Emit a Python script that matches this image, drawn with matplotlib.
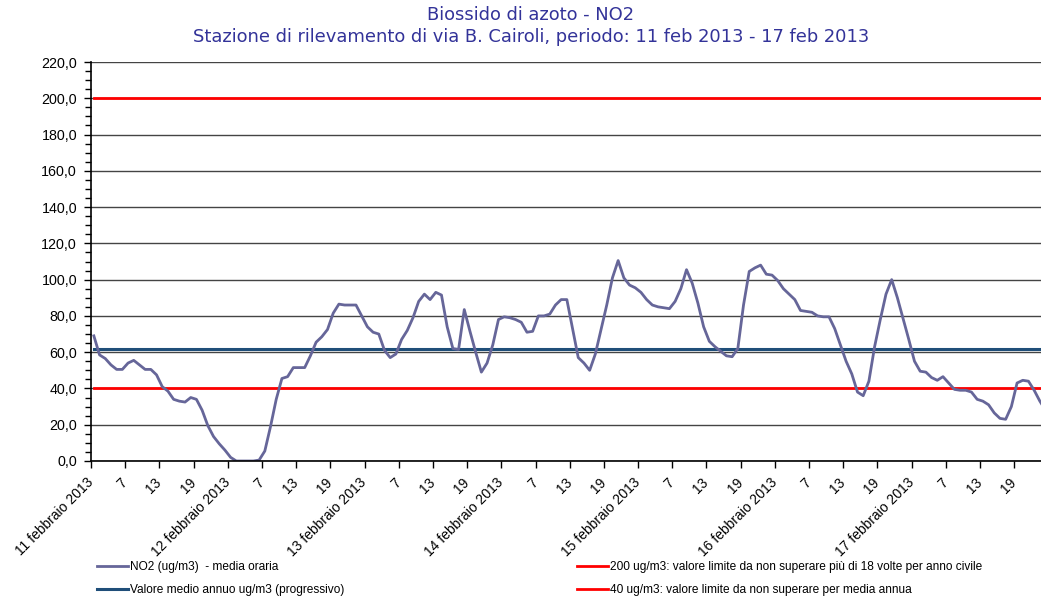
import numpy as np
import matplotlib
matplotlib.use("Agg")
import matplotlib.pyplot as plt
from matplotlib.ticker import MultipleLocator, FuncFormatter

# hourly NO2 values (ug/m3), 11-17 feb 2013, 24 per day
day_11 = [69, 58.5, 56.5, 53, 50.5, 50.5, 54, 55.5, 53, 50.5, 50.5, 47.5,
          41, 38.5, 34, 33, 32.5, 35, 34, 28, 19.5, 13.5, 9.5, 6]
day_12 = [2, 0, 0, 0, 0, 0.5, 5.5, 19, 34, 45.5, 46.5, 51.5,
          51.5, 51.5, 58, 65.5, 68.5, 72.5, 81.5, 86.5, 86, 86, 86, 80]
day_13 = [74, 71, 70, 61, 57, 59, 67, 72, 79, 88, 92, 89,
          93, 91.5, 74, 62, 61.5, 83.5, 71.5, 60, 49, 54, 64, 78]
day_14 = [79.5, 79, 78, 76.5, 71, 71.5, 80, 80, 81, 86, 89, 89,
          73, 57, 54, 50, 59, 72.5, 86, 101, 110.5, 101, 97, 95.5]
day_15 = [93, 89, 86, 85, 84.5, 84, 88, 95, 105.5, 98, 87, 74,
          66, 63, 60.5, 58, 57.5, 62, 86, 104.5, 106.5, 108, 103, 102.5]
day_16 = [99.5, 95, 92, 89, 83, 82.5, 82, 80, 79.5, 79.5, 73, 64,
          55, 48, 38, 36, 44, 63, 78, 92, 100, 90, 78.5, 67]
day_17 = [55, 49.5, 49, 46, 44.5, 46.5, 43, 39.5, 39, 39, 38, 34,
          33, 31, 26.5, 23.5, 23, 30, 43, 44.5, 44, 39, 33, 28]

days = ["11 febbraio 2013", "12 febbraio 2013", "13 febbraio 2013", "14 febbraio 2013",
        "15 febbraio 2013", "16 febbraio 2013", "17 febbraio 2013"]
hour_labels = ["7", "13", "19"]

media_annua = 61.5
limite_orario = 200
limite_annuo = 40

no2 = day_11 + day_12 + day_13 + day_14 + day_15 + day_16 + day_17
n = len(no2)
x = np.arange(n)

fig = plt.figure(figsize=(10.41, 5.99), dpi=100)
ax = fig.add_axes([91 / 1041, 1 - 461 / 599, 1 - 91 / 1041, (461 - 62) / 599])

ax.set_axisbelow(True)
ax.yaxis.grid(True, color="#444444", linewidth=1.0)

ax.plot(x, [limite_orario] * n, color="#ff0000", linewidth=2)
ax.plot(x, [limite_annuo] * n, color="#ff0000", linewidth=2)
ax.plot(x, [media_annua] * n, color="#1f4e79", linewidth=2.2)
ax.plot(x, no2, color="#666699", linewidth=2)

ax.set_ylim(0, 220)
ax.set_xlim(-0.5, 166.2)
ax.yaxis.set_major_locator(MultipleLocator(20))
ax.yaxis.set_minor_locator(MultipleLocator(5))
ax.yaxis.set_major_formatter(FuncFormatter(lambda v, p: f"{v:.1f}".replace(".", ",")))

ticks = []
labels = []
for d, name in enumerate(days):
    for k, lab in enumerate([name] + hour_labels):
        ticks.append(d * 24 + k * 6 - 0.5)
        labels.append(lab)
ax.set_xticks(ticks)
ax.set_xticklabels(labels, rotation=45, ha="right", va="center", rotation_mode="anchor",
                   fontsize=10, family="Liberation Sans")
ax.tick_params(axis="x", length=5, width=1, pad=9, direction="out")
ax.tick_params(axis="y", which="major", length=5, width=1, labelsize=10.3, pad=5)
ax.tick_params(axis="y", which="minor", length=4, width=1)
for t in ax.get_yticklabels():
    t.set_family("Liberation Sans")

for s in ["top", "right"]:
    ax.spines[s].set_visible(False)
ax.spines["left"].set_linewidth(1.2)
ax.spines["bottom"].set_linewidth(1.2)

fig.text(0.51, 1 - 15 / 599, "Biossido di azoto - NO2", ha="center", va="center",
         color="#333399", fontsize=12.9)
fig.text(0.51, 1 - 37 / 599,
         "Stazione di rilevamento di via B. Cairoli, periodo: 11 feb 2013 - 17 feb 2013",
         ha="center", va="center", color="#333399", fontsize=12.9)

h_no2 = plt.Line2D([], [], color="#666699", linewidth=2)
h_med = plt.Line2D([], [], color="#1f4e79", linewidth=2.2)
h_200 = plt.Line2D([], [], color="#ff0000", linewidth=2)
h_40 = plt.Line2D([], [], color="#ff0000", linewidth=2)

leg_kw = dict(loc="upper left", frameon=False, handlelength=2.6, handletextpad=0.15,
              labelspacing=0.95, borderpad=0, borderaxespad=0,
              prop={"family": "Liberation Sans", "size": 8.6})
fig.legend([h_no2, h_med],
           ["NO2 (ug/m3)  - media oraria", "Valore medio annuo ug/m3 (progressivo)"],
           bbox_to_anchor=(97 / 1041, 1 - 561 / 599), **leg_kw)
fig.legend([h_200, h_40],
           ["200 ug/m3: valore limite da non superare più di 18 volte per anno civile",
            "40 ug/m3: valore limite da non superare per media annua"],
           bbox_to_anchor=(577 / 1041, 1 - 561 / 599), **leg_kw)

fig.savefig("out.png", dpi=100)
